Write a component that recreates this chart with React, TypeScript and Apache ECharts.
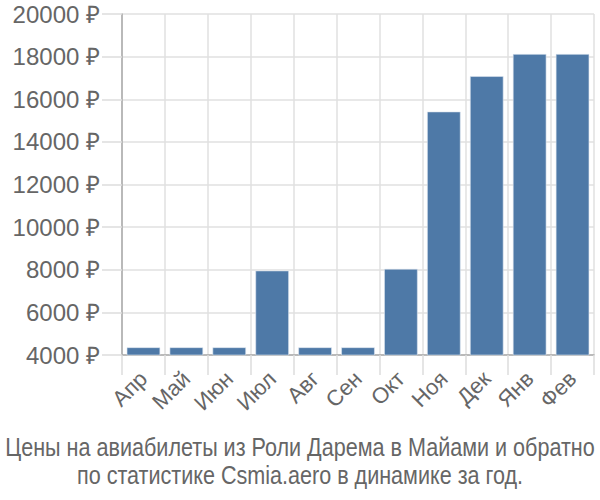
import React, { useEffect, useRef } from "react";
import * as echarts from "echarts";

const categories = ["Апр", "Май", "Июн", "Июл", "Авг", "Сен", "Окт", "Ноя", "Дек", "Янв", "Фев"];
const prices = [4360, 4360, 4360, 7960, 4360, 4360, 8040, 15420, 17080, 18120, 18120];
const yTicks = { min: 4000, max: 20000, interval: 2000 };
const titleLines = [
  "Цены на авиабилеты из Роли Дарема в Майами и обратно",
  "по статистике Csmia.aero в динамике за год.",
];

export default function App() {
  const ref = useRef<HTMLDivElement>(null);
  useEffect(() => {
    if (!ref.current) return;
    const chart = echarts.init(ref.current, null, { renderer: "svg" });
    chart.setOption({
      animation: false,
      textStyle: { fontFamily: "'Liberation Sans', Arial, sans-serif" },
      graphic: titleLines.map((line, i) => ({
        type: "text",
        x: 300,
        y: 447 + i * 28,
        scaleX: 0.83,
        style: {
          text: line,
          fontSize: 26,
          fill: "#666",
          textAlign: "center",
          textVerticalAlign: "middle",
          fontFamily: "'Liberation Sans', Arial, sans-serif",
        },
      })),
      grid: { left: 122, right: 6, top: 14, bottom: 145, containLabel: false },
      xAxis: {
        type: "category",
        data: categories,
        boundaryGap: true,
        axisLine: { show: true, lineStyle: { color: "#aaa", width: 1.5 } },
        axisTick: { show: true, length: 20, lineStyle: { color: "#ddd", width: 1.5 } },
        splitLine: { show: true, lineStyle: { color: "#e0e0e0", width: 1.5 } },
        axisLabel: {
          rotate: 45,
          fontSize: 22,
          color: "#666",
          margin: 20,
          interval: 0,
        },
      },
      yAxis: {
        type: "value",
        min: yTicks.min,
        max: yTicks.max,
        interval: yTicks.interval,
        axisLine: { show: true, lineStyle: { color: "#aaa", width: 1.5 } },
        axisTick: { show: true, length: 20, lineStyle: { color: "#ddd", width: 1.5 } },
        splitLine: { show: true, lineStyle: { color: "#e0e0e0", width: 1.5 } },
        axisLabel: {
          formatter: (v: number) => `${v} ₽`,
          fontSize: 24,
          color: "#666",
          margin: 22,
        },
      },
      series: [
        {
          type: "bar",
          data: prices,
          barCategoryGap: "22%",
          itemStyle: { color: "#4e79a7", borderColor: "#dde6f0", borderWidth: 0.6 },
        },
      ],
    });
    return () => chart.dispose();
  }, []);
  return (
    <div
      ref={ref}
      style={{ position: "absolute", left: 0, top: 0, width: 600, height: 500 }}
    />
  );
}
